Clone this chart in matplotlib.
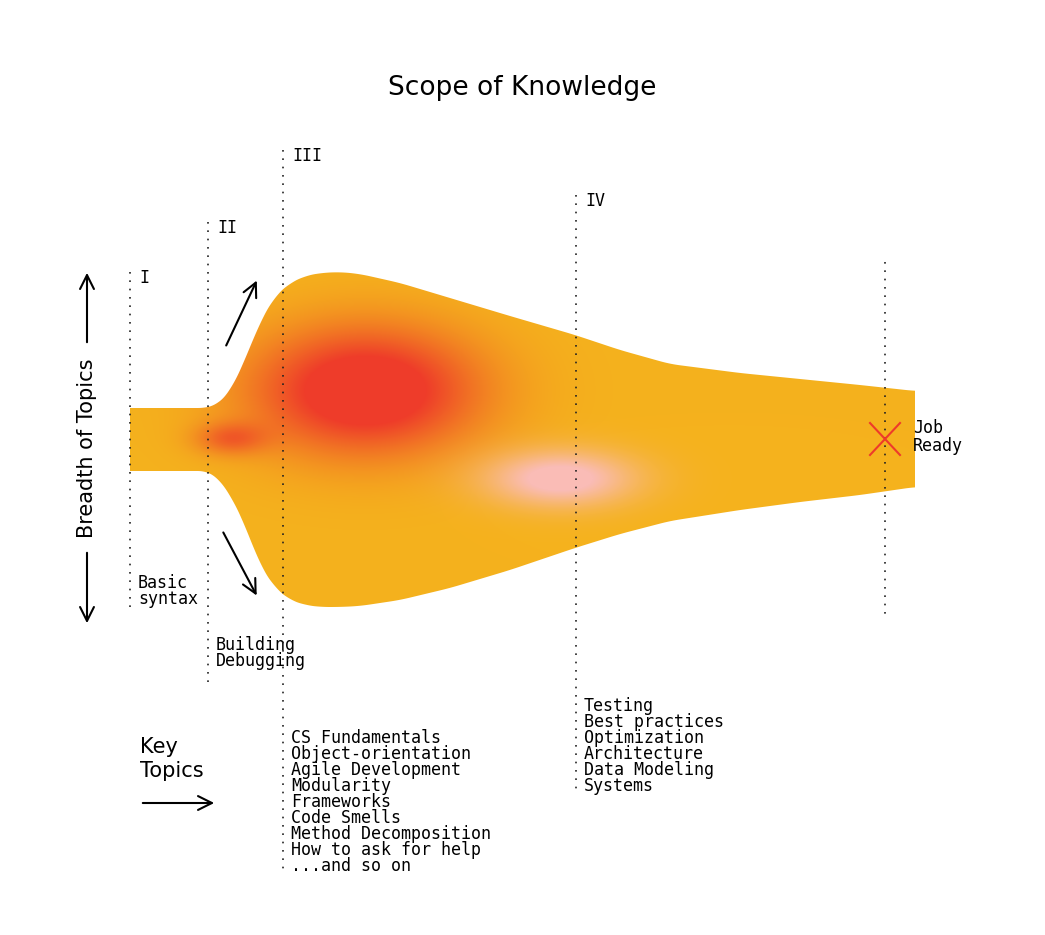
import numpy as np
import matplotlib
matplotlib.use("Agg")
import matplotlib.pyplot as plt
from matplotlib.patches import Polygon

# Shape profile (pixel-space diagram)
prof_x   = [130, 208, 218, 230, 245, 260, 275, 290, 305, 320, 340, 360, 400, 450, 510, 575, 620, 670, 740, 800, 860, 915]
prof_top = [408, 408, 404, 392, 360, 322, 296, 283, 276, 273, 272, 274, 283, 298, 316, 335, 350, 364, 373, 379, 385, 391]
prof_bot = [471, 471, 478, 494, 525, 565, 588, 600, 605, 607, 607, 606, 600, 588, 570, 548, 534, 521, 510, 502, 495, 487]

stages = ["I", "II", "III", "IV", ""]
stage_x = [130, 208, 283, 576, 885]
stage_top = [272, 222, 150, 195, 262]
stage_bot = [607, 685, 875, 790, 617]
stage_topics = [["Basic", "syntax"], ["Building", "Debugging"],
                ["CS Fundamentals", "Object-orientation", "Agile Development", "Modularity",
                 "Frameworks", "Code Smells", "Method Decomposition", "How to ask for help", "...and so on"],
                ["Testing", "Best practices", "Optimization", "Architecture", "Data Modeling", "Systems"],
                []]
topic_y = [583, 645, 738, 706, 0]

W, H = 1045, 935
fig = plt.figure(figsize=(W/100, H/100), dpi=100)
ax = fig.add_axes([0, 0, 1, 1])
ax.set_xlim(0, W); ax.set_ylim(H, 0); ax.axis("off")

mono = "DejaVu Sans Mono"
ax.text(522, 88, "Scope of Knowledge", ha="center", va="center", fontsize=19, family="DejaVu Sans")

# gradient image
xs = np.arange(W); ys = np.arange(H)
X, Y = np.meshgrid(xs, ys)
base = np.array([245, 178, 29]) / 255
red = np.array([238, 60, 42]) / 255
pink = np.array([250, 188, 182]) / 255
r1 = np.clip(1.35*np.exp(-(((X-365)/110)**2 + ((Y-390)/62)**2)), 0, 1)
r2 = np.exp(-(((X-230)/35)**2 + ((Y-438)/16)**2)) * 0.6
rr = np.clip(r1 + r2, 0, 1)
p = np.clip(1.2*np.exp(-(((X-560)/75)**2 + ((Y-478)/28)**2)), 0, 1)
img = base[None, None, :] * np.ones((H, W, 3))
img = img*(1-rr[..., None]) + red*rr[..., None]
img = img*(1-p[..., None]) + pink*p[..., None]

xx = np.linspace(100, 945, 846)
top = np.interp(xx, prof_x, prof_top); bot = np.interp(xx, prof_x, prof_bot)
k = np.ones(21)/21
top = np.convolve(top, k, mode="same"); bot = np.convolve(bot, k, mode="same")
m = (xx >= 130) & (xx <= 915)
xx, top, bot = xx[m], top[m], bot[m]
poly = Polygon(np.vstack([np.c_[xx, top], np.c_[xx[::-1], bot[::-1]]]), closed=True, fc="none", ec="none")
ax.add_patch(poly)
im = ax.imshow(img, extent=(0, W, H, 0), zorder=1)
im.set_clip_path(poly)

for s, x, t, b, tp, ty in zip(stages, stage_x, stage_top, stage_bot, stage_topics, topic_y):
    ax.plot([x, x], [t, b], ls=(0, (1, 4)), color="#222", lw=1.2, zorder=3)
    if s:
        ax.text(x+9, t+6, s, family=mono, fontsize=12, va="center", ha="left")
    for i, line in enumerate(tp):
        ax.text(x+8, ty + i*16, line, family=mono, fontsize=12, va="center", ha="left")

ax.text(913, 437, "Job\nReady", family=mono, fontsize=12, va="center", ha="left", linespacing=0.95)
ax.plot([870, 900], [423, 455], color="#EE3A2A", lw=1.5, zorder=4)
ax.plot([870, 900], [455, 423], color="#EE3A2A", lw=1.5, zorder=4)

ak = dict(arrowstyle="->,head_length=1.0,head_width=0.5", color="black", lw=1.5)
ax.annotate("", xy=(87, 270), xytext=(87, 345), arrowprops=ak)
ax.annotate("", xy=(87, 626), xytext=(87, 550), arrowprops=ak)
ax.text(87, 448, "Breadth of Topics", rotation=90, ha="center", va="center", fontsize=15, family="DejaVu Sans")
ax.annotate("", xy=(258, 278), xytext=(225, 348), arrowprops=ak)
ax.annotate("", xy=(258, 598), xytext=(222, 530), arrowprops=ak)
ax.text(140, 759, "Key\nTopics", fontsize=15, family="DejaVu Sans", va="center", ha="left", linespacing=1.2)
ax.annotate("", xy=(217, 803), xytext=(140, 803), arrowprops=ak)

fig.savefig("out.png", dpi=100, facecolor="white")
